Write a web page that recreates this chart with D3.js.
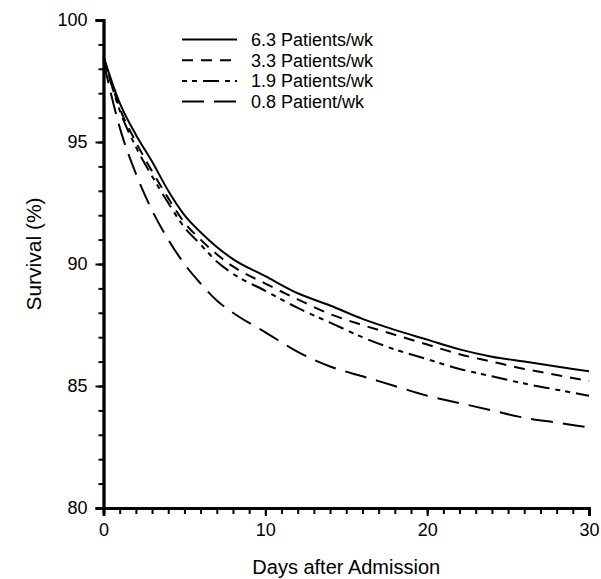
<!DOCTYPE html>
<html>
<head>
<meta charset="utf-8">
<script src="https://cdn.jsdelivr.net/npm/d3@7"></script>
<style>
  body { margin: 0; background: #fff; }
  svg { display: block; font-family: "Liberation Sans", Arial, sans-serif; }
</style>
</head>
<body>
<div id="chart"></div>
<script>
// survival curves
const days = [0, 1, 2, 3, 4, 5, 6, 7, 8, 10, 12, 14, 16, 18, 20, 22, 24, 26, 28, 30];
const surv63 = [98.5, 96.6, 95.3, 94.2, 93.0, 92.0, 91.3, 90.7, 90.2, 89.5, 88.8, 88.3, 87.75, 87.3, 86.9, 86.5, 86.2, 86.0, 85.8, 85.6];
const surv33 = [98.5, 96.4, 95.0, 93.8, 92.7, 91.7, 91.0, 90.4, 89.9, 89.2, 88.55, 87.95, 87.5, 87.1, 86.7, 86.3, 86.0, 85.7, 85.45, 85.2];
const surv19 = [98.5, 96.3, 94.8, 93.6, 92.5, 91.5, 90.8, 90.1, 89.6, 88.9, 88.2, 87.6, 87.0, 86.5, 86.1, 85.7, 85.4, 85.1, 84.85, 84.6];
const surv08 = [98.3, 95.6, 93.7, 92.2, 91.0, 90.0, 89.2, 88.5, 88.0, 87.2, 86.4, 85.8, 85.4, 85.0, 84.6, 84.3, 84.0, 83.7, 83.5, 83.3];
const seriesNames = ["6.3 Patients/wk", "3.3 Patients/wk", "1.9 Patients/wk", "0.8 Patient/wk"];
const seriesValues = [surv63, surv33, surv19, surv08];
const dashes = ["none", "11,8", "5,5,5,6,16,6", "22,10"];
const xTicks = [0, 10, 20, 30];
const yTicks = [80, 85, 90, 95, 100];

const width = 601, height = 579;
const margin = { top: 20, right: 12, bottom: 71, left: 103.5 };

const svg = d3.select("#chart").append("svg")
  .attr("width", width)
  .attr("height", height);

const x = d3.scaleLinear().domain([0, 30]).range([margin.left, width - margin.right]);
const y = d3.scaleLinear().domain([80, 100]).range([height - margin.bottom, margin.top]);

// minor ticks, then the labelled ones on top
const gx = svg.append("g").attr("transform", `translate(0,${y(80)})`);
gx.call(d3.axisBottom(x).tickValues(d3.range(0, 31)).tickSize(6).tickFormat(""));
gx.append("g").call(d3.axisBottom(x).tickValues(xTicks).tickSize(8).tickPadding(7).tickFormat(d3.format("d")));

const gy = svg.append("g").attr("transform", `translate(${x(0)},0)`);
gy.call(d3.axisLeft(y).tickValues(d3.range(80, 101)).tickSize(5).tickFormat(""));
gy.append("g").call(d3.axisLeft(y).tickValues(yTicks).tickSize(8).tickPadding(8).tickFormat(d3.format("d")));

svg.selectAll(".domain").attr("stroke", "#000").attr("stroke-width", 2.8);
svg.selectAll(".tick line").attr("stroke", "#000").attr("stroke-width", 2);
svg.selectAll(".tick text").attr("font-size", 18).attr("fill", "#000")
  .attr("font-family", "Liberation Sans, Arial, sans-serif");

const line = d3.line()
  .x((d, i) => x(days[i]))
  .y(d => y(d))
  .curve(d3.curveMonotoneX);

svg.append("g").selectAll("path")
  .data(seriesValues)
  .join("path")
  .attr("d", line)
  .attr("fill", "none")
  .attr("stroke", "#000")
  .attr("stroke-width", 2)
  .attr("stroke-dasharray", (d, i) => dashes[i]);

// legend
const legend = svg.append("g");
seriesNames.forEach((name, i) => {
  const ly = 39.5 + i * 20.7;
  legend.append("line")
    .attr("x1", 182).attr("x2", 237)
    .attr("y1", ly).attr("y2", ly)
    .attr("stroke", "#000").attr("stroke-width", 2)
    .attr("stroke-dasharray", dashes[i]);
  legend.append("text")
    .attr("x", 251).attr("y", ly + 6.5)
    .attr("font-size", 18)
    .text(name);
});

svg.append("text")
  .attr("x", (x(0) + x(30)) / 2)
  .attr("y", 574)
  .attr("text-anchor", "middle")
  .attr("font-size", 20)
  .text("Days after Admission");

svg.append("text")
  .attr("transform", `translate(41,${(y(80) + y(100)) / 2 - 10}) rotate(-90)`)
  .attr("text-anchor", "middle")
  .attr("font-size", 21)
  .text("Survival (%)");
</script>
</body>
</html>
